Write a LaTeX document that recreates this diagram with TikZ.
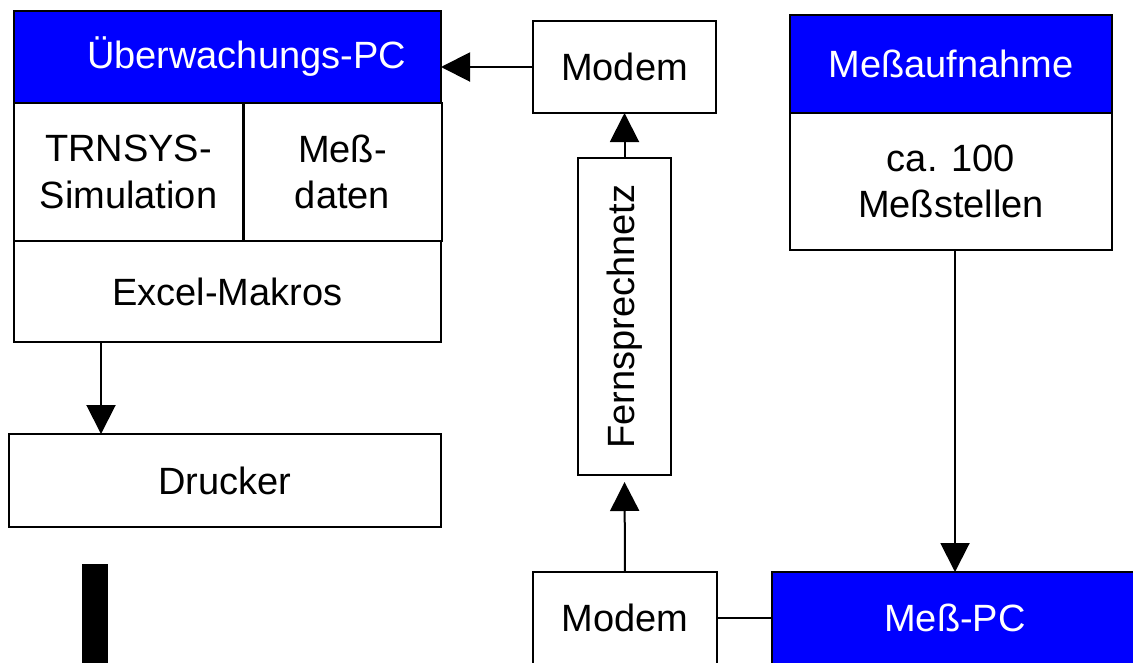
\documentclass[tikz,border=0pt]{standalone}
\usepackage{fontspec}
\setmainfont{Liberation Sans}
\usetikzlibrary{arrows.meta,calc}
\definecolor{pcblue}{RGB}{0,0,255}
\begin{document}
\begin{tikzpicture}[x=1pt,y=-1pt,
  every node/.style={inner sep=0pt,outer sep=0pt,font=\fontsize{38}{46.5}\selectfont,align=center},
  cell/.style={draw=black,line width=2pt,fill=white,minimum width=#1},
  bluecell/.style={draw=black,line width=2.4pt,fill=pcblue,text=white,minimum width=#1},
  conn/.style={line width=2pt},
  arr/.style={line width=2pt,-{Triangle[length=29pt,width=29pt]}}]
\useasboundingbox (0,0) rectangle (1133,662);
\clip (0,0) rectangle (1133,662);
\fill[white] (0,0) rectangle (1133,662);
% Ueberwachungs-PC group
\node[bluecell=427pt,minimum height=92pt] (upc) at (227.5,57) {\hspace*{38pt}Überwachungs-PC};
\node[cell=229pt,minimum height=138pt] (trn) at (128.5,172) {TRNSYS-\\Simulation};
\node[cell=198pt,minimum height=138pt] (mdat) at (342.5,172) {Meß-\\daten};
\node[cell=427pt,minimum height=101pt] (excel) at (227.5,291.5) {Excel-Makros};
\node[cell=432pt,minimum height=93pt] (drucker) at (225,480.5) {Drucker};
\node[fill=black,minimum width=26pt,minimum height=110pt] (bar) at (95,619) {};
% Modems and network
\node[cell=183pt,minimum height=92pt] (modemtop) at (624.5,67) {Modem};
\node[cell=93pt,minimum height=317pt] (fern) at (624.5,316.5) {};
\node[rotate=90] (ferntext) at (fern.center) {Fernsprechnetz};
\node[cell=184pt,minimum height=92pt] (modembot) at (625,618) {Modem};
% Messaufnahme
\node[bluecell=322pt,minimum height=98pt] (mauf) at (951,64) {Meßaufnahme};
\node[cell=322pt,minimum height=137pt] (mst) at (951,181.5) {ca. 100\\Meßstellen};
\node[bluecell=366pt,minimum height=92pt] (mpc) at (955,618) {Meß-PC};
% connectors
\draw[arr] (modemtop.west) -- (modemtop.west -| upc.east);
\draw[arr] (fern.north) -- (modemtop.south);
\draw[arr,shorten >=7pt] (modembot.north) -- (fern.south);
\draw[arr] (mpc.north |- mst.south) -- (mpc.north);
\draw[conn] (modembot.east) -- (mpc.west);
\coordinate (exo) at ([xshift=87pt]excel.south west);
\draw[arr] (exo) -- (exo |- drucker.north);
\end{tikzpicture}
\end{document}
